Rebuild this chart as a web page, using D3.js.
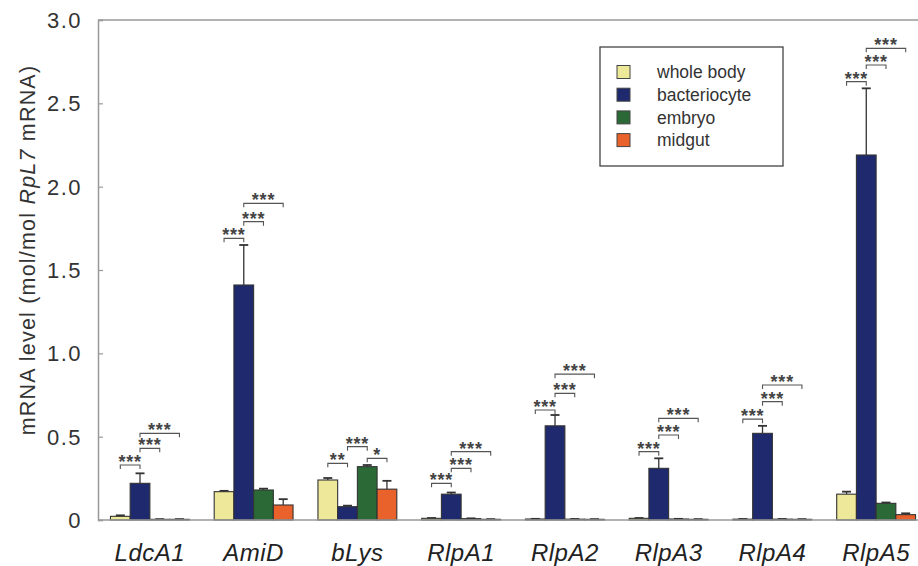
<!DOCTYPE html>
<html>
<head>
<meta charset="utf-8">
<script src="https://cdn.jsdelivr.net/npm/d3@7"></script>
<style>
  html, body { margin: 0; padding: 0; background: #fff; }
  svg { display: block; }
  text { font-family: "Liberation Sans", Arial, sans-serif; }
</style>
</head>
<body>
<svg id="chart" width="918" height="566"></svg>
<script>
// ---- data ----
const categories = ["LdcA1", "AmiD", "bLys", "RlpA1", "RlpA2", "RlpA3", "RlpA4", "RlpA5"];
const seriesNames = ["whole body", "bacteriocyte", "embryo", "midgut"];
const seriesColors = ["#eee99a", "#1f2a6e", "#2b6a36", "#ea622b"];

const wholeBody      = [0.022, 0.170, 0.240, 0.010, 0.006, 0.010, 0.005, 0.155];
const wholeBodyErr   = [0.006, 0.005, 0.012, 0.002, 0.001, 0.002, 0.001, 0.015];
const bacteriocyte   = [0.220, 1.410, 0.080, 0.155, 0.565, 0.310, 0.520, 2.190];
const bacteriocyteErr= [0.060, 0.240, 0.006, 0.010, 0.065, 0.060, 0.045, 0.400];
const embryo         = [0.004, 0.180, 0.320, 0.008, 0.005, 0.006, 0.005, 0.100];
const embryoErr      = [0.001, 0.008, 0.010, 0.002, 0.001, 0.001, 0.001, 0.005];
const midgut         = [0.004, 0.090, 0.185, 0.004, 0.004, 0.004, 0.004, 0.032];
const midgutErr      = [0.001, 0.035, 0.050, 0.001, 0.001, 0.001, 0.001, 0.008];

const yTicks = [0, 0.5, 1.0, 1.5, 2.0, 2.5, 3.0];
const yTickLabels = ["0", "0.5", "1.0", "1.5", "2.0", "2.5", "3.0"];

// significance brackets: category, series a, series b, level (mRNA units), label
const sigCategory = [0,0,0, 1,1,1, 2,2,2, 3,3,3, 4,4,4, 5,5,5, 6,6,6, 7,7,7];
const sigFrom     = [0,1,1, 0,1,1, 0,1,2, 0,1,1, 0,1,1, 0,1,1, 0,1,1, 0,1,1];
const sigTo       = [1,2,3, 1,2,3, 1,2,3, 1,2,3, 1,2,3, 1,2,3, 1,2,3, 1,2,3];
const sigLevel    = [0.33,0.43,0.52, 1.69,1.79,1.90, 0.34,0.44,0.37, 0.22,0.31,0.41,
                     0.66,0.76,0.875, 0.41,0.51,0.61, 0.605,0.71,0.81, 2.63,2.73,2.83];
const sigLabel    = ["***","***","***", "***","***","***", "**","***","*", "***","***","***",
                     "***","***","***", "***","***","***", "***","***","***", "***","***","***"];

const values = [wholeBody, bacteriocyte, embryo, midgut];
const errors = [wholeBodyErr, bacteriocyteErr, embryoErr, midgutErr];

// ---- layout ----
const svg = d3.select("#chart");
const mLeft = 98, mRight = 928, mTop = 20, mBottom = 520;

const x0 = d3.scaleBand().domain(categories).range([mLeft, mRight])
  .paddingInner(0.24).paddingOuter(0.12);
const x1 = d3.scaleBand().domain(d3.range(seriesNames.length)).range([0, x0.bandwidth()]);
const y = d3.scaleLinear().domain([0, 3]).range([mBottom, mTop]);

const frameColor = "#999";

const barData = [];
categories.forEach((c, ci) => {
  seriesNames.forEach((s, si) => {
    barData.push({c, ci, si, v: values[si][ci], e: errors[si][ci]});
  });
});

// error bars (upward only)
const eg = svg.append("g");
barData.forEach(d => {
  const cx = x0(d.c) + x1(d.si) + x1.bandwidth() / 2;
  eg.append("line").attr("x1", cx).attr("x2", cx)
    .attr("y1", y(d.v)).attr("y2", y(d.v + d.e))
    .attr("stroke", "#333").attr("stroke-width", 1.3);
  eg.append("line").attr("x1", cx - 4.5).attr("x2", cx + 4.5)
    .attr("y1", y(d.v + d.e)).attr("y2", y(d.v + d.e))
    .attr("stroke", "#333").attr("stroke-width", 1.8);
});

svg.append("g").selectAll("rect").data(barData).join("rect")
  .attr("x", d => x0(d.c) + x1(d.si))
  .attr("y", d => y(d.v))
  .attr("width", x1.bandwidth())
  .attr("height", d => Math.max(0, y(0) - y(d.v)))
  .attr("fill", d => seriesColors[d.si])
  .attr("stroke", "#333")
  .attr("stroke-width", 1.1);

// frame: baseline and top border
svg.append("line").attr("x1", mLeft).attr("x2", 918).attr("y1", mBottom).attr("y2", mBottom)
  .attr("stroke", frameColor).attr("stroke-width", 1.5);
svg.append("line").attr("x1", mLeft).attr("x2", 918).attr("y1", mTop).attr("y2", mTop)
  .attr("stroke", frameColor).attr("stroke-width", 1.5);

// y axis with inward ticks
const yAxis = d3.axisRight(y).tickValues(yTicks).tickSize(5).tickFormat(() => "");
const ya = svg.append("g").attr("transform", `translate(${mLeft},0)`).call(yAxis);
ya.select(".domain").attr("stroke", frameColor).attr("stroke-width", 1.5);
ya.selectAll(".tick line").attr("stroke", frameColor).attr("stroke-width", 1.2);

svg.append("g").selectAll("text").data(yTicks).join("text")
  .attr("x", 82).attr("y", d => y(d))
  .attr("dy", "0.36em")
  .attr("text-anchor", "end")
  .attr("font-size", 22)
  .attr("letter-spacing", 1.5)
  .attr("fill", "#333")
  .text((d, i) => yTickLabels[i]);

// x labels
svg.append("g").selectAll("text").data(categories).join("text")
  .attr("x", d => x0(d) + x0.bandwidth() / 2)
  .attr("y", 561)
  .attr("text-anchor", "middle")
  .attr("font-size", 24)
  .attr("font-style", "italic")
  .attr("letter-spacing", 0.5)
  .attr("fill", "#222")
  .text(d => d);

// y title
const yt = svg.append("text")
  .attr("transform", `translate(35,${(mTop + mBottom) / 2 - 20}) rotate(-90)`)
  .attr("text-anchor", "middle")
  .attr("font-size", 21.5)
  .attr("letter-spacing", 1.2)
  .attr("fill", "#333");
yt.append("tspan").text("mRNA level (mol/mol ");
yt.append("tspan").attr("font-style", "italic").text("RpL7");
yt.append("tspan").text(" mRNA)");

// significance brackets
const sg = svg.append("g");
sigLevel.forEach((lv, i) => {
  const c = categories[sigCategory[i]];
  const xa = x0(c) + x1(sigFrom[i]) + x1.bandwidth() / 2;
  const xb = x0(c) + x1(sigTo[i]) + x1.bandwidth() / 2;
  const yy = y(lv);
  sg.append("path")
    .attr("d", `M${xa},${yy + 4}V${yy}H${xb}V${yy + 4}`)
    .attr("fill", "none").attr("stroke", "#555").attr("stroke-width", 1.1);
  sg.append("text")
    .attr("x", (xa + xb) / 2).attr("y", yy + 3)
    .attr("text-anchor", "middle")
    .attr("font-size", 18)
    .attr("font-weight", "bold")
    .attr("letter-spacing", 0.8)
    .attr("fill", "#444")
    .text(sigLabel[i]);
});

// legend
const lg = svg.append("g");
lg.append("rect").attr("x", 600).attr("y", 47).attr("width", 183).attr("height", 119)
  .attr("fill", "#fff").attr("stroke", "#444").attr("stroke-width", 1.3);
seriesNames.forEach((s, i) => {
  const cy = 72 + i * 22.7;
  lg.append("rect").attr("x", 617).attr("y", cy - 6.5).attr("width", 13).attr("height", 13)
    .attr("fill", seriesColors[i]).attr("stroke", "#444").attr("stroke-width", 1);
  lg.append("text").attr("x", 657).attr("y", cy).attr("dy", "0.35em")
    .attr("font-size", 17.5).attr("fill", "#333").text(s);
});
</script>
</body>
</html>
